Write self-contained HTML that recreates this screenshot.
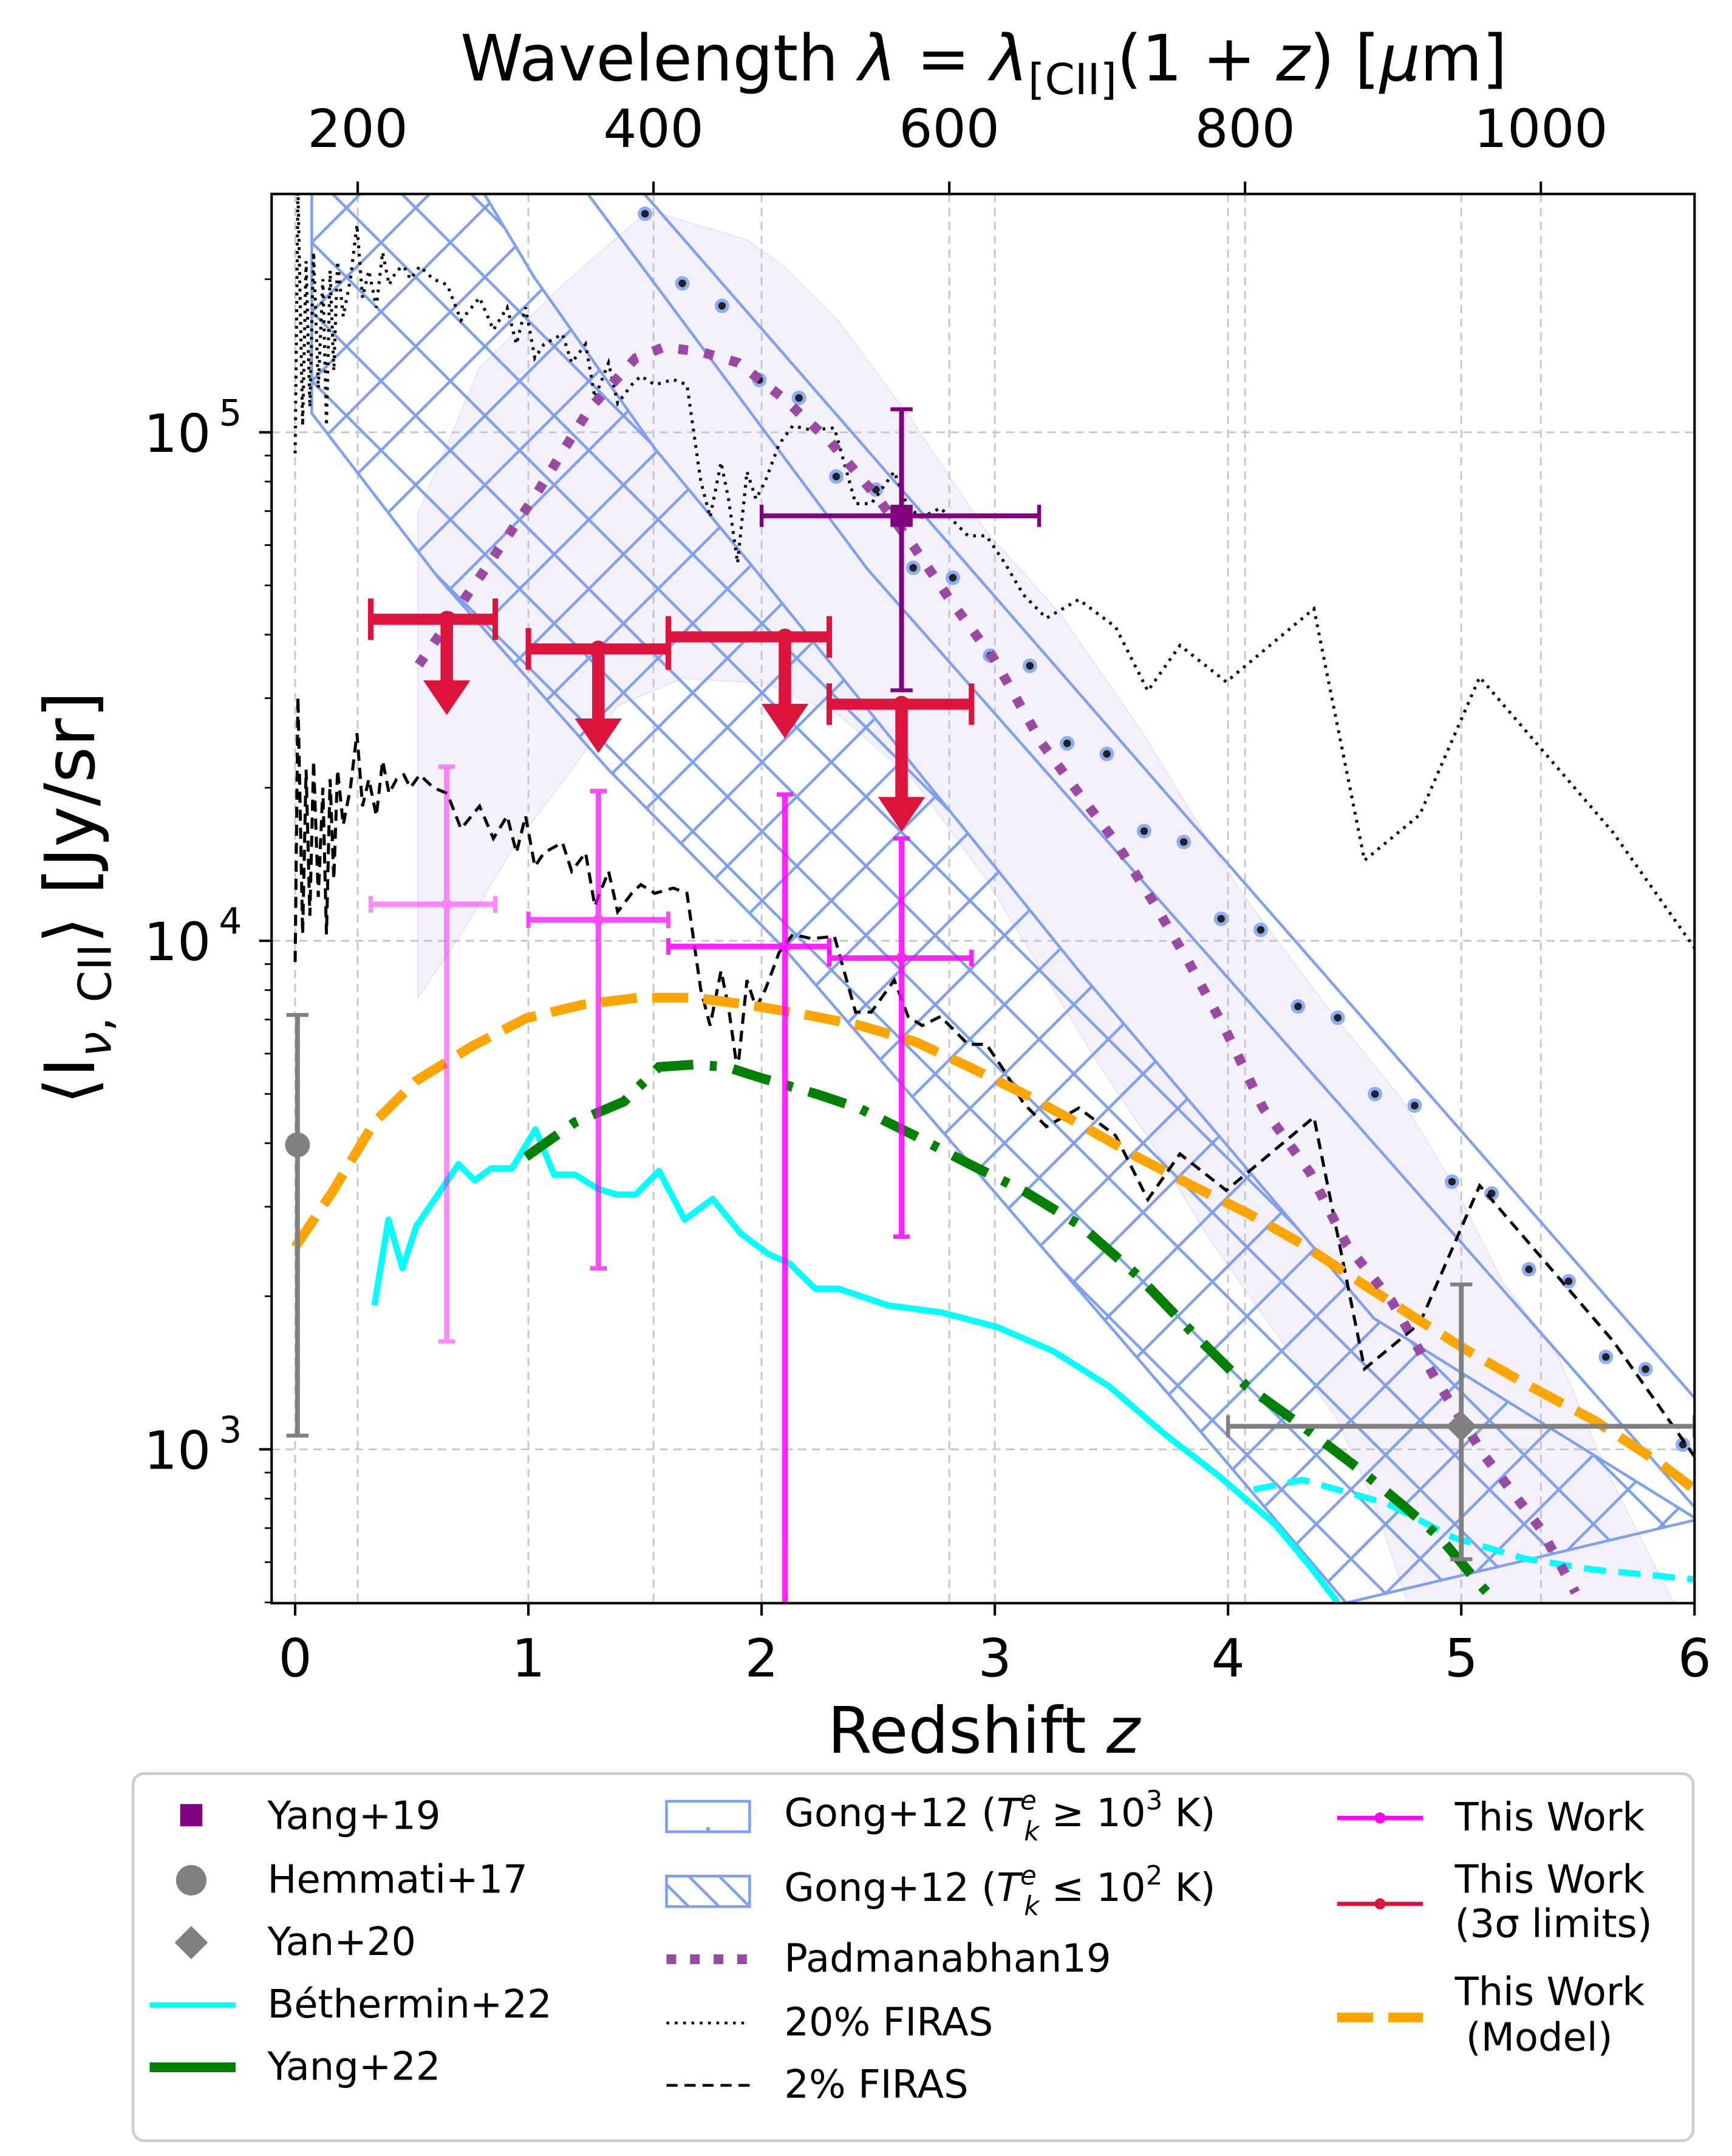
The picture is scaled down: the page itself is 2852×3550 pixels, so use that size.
<!DOCTYPE html>
<html><head><meta charset="utf-8"><style>
html,body{margin:0;padding:0;background:#fff}
svg{display:block}
text{font-family:"DejaVu Sans","Liberation Sans",sans-serif;fill:#000}
</style></head><body>
<svg id="chart" xmlns="http://www.w3.org/2000/svg" width="2852" height="3550" viewBox="0 0 1250 1556">
<defs>
<clipPath id="plotclip"><rect x="196" y="140" width="1027" height="1017"/></clipPath>
<pattern id="xhatch" patternUnits="userSpaceOnUse" width="50" height="50">
<path d="M0,0 L50,50 M50,0 L0,50" stroke="#7f9ff0" stroke-width="2" fill="none"/>
</pattern>
</defs>
<rect x="0" y="0" width="1250" height="1556" fill="#fff"/>
<g id="grid"></g>
<g id="plot" clip-path="url(#plotclip)"></g>
<rect x="196" y="140" width="1027" height="1017" fill="none" stroke="#000" stroke-width="1.8"/>
<g id="axes"></g>
<text x="710" y="58" font-size="46" text-anchor="middle">Wavelength <tspan font-style="italic">λ</tspan> = <tspan font-style="italic">λ</tspan><tspan font-size="31" dy="10">[CII]</tspan><tspan dy="-10">(1 + </tspan><tspan font-style="italic">z</tspan>) [<tspan font-style="italic">μ</tspan>m]</text>
<text x="710" y="1265" font-size="46" text-anchor="middle">Redshift <tspan font-style="italic">z</tspan></text>
<text transform="translate(68,648) rotate(-90)" font-size="50" text-anchor="middle">⟨I<tspan font-size="33" dy="12"><tspan font-style="italic">ν</tspan>, CII</tspan><tspan dy="-12">⟩ [Jy/sr]</tspan></text>
<g id="legend"></g>
</svg>
<script>
var NS="http://www.w3.org/2000/svg";
// ---- data ----
var bethZ=[0.34,0.40,0.46,0.52,0.64,0.70,0.77,0.84,0.93,1.03,1.11,1.20,1.30,1.38,1.46,1.56,1.67,1.79,1.91,2.03,2.12,2.23,2.33,2.54,2.77,3.01,3.25,3.49,3.73,3.96,4.20,4.35,4.47];
var bethV=[1920,2830,2270,2750,3310,3640,3380,3570,3570,4260,3470,3470,3250,3170,3170,3530,2830,3110,2660,2420,2320,2070,2070,1920,1860,1740,1560,1330,1070,887,713,590,500];
var bethHiZ=[4.11,4.32,4.68,4.97,5.27,5.57,6.0];
var bethHiV=[834,871,783,670,610,580,555];
var yang22Z=[0.99,1.20,1.41,1.56,1.71,1.85,2.00,2.24,2.42,2.66,2.89,3.13,3.37,3.61,3.84,4.08,4.32,4.56,4.74,4.91,5.06,5.15];
var yang22V=[3760,4400,4830,5650,5710,5650,5370,4990,4680,4130,3640,3210,2750,2200,1710,1330,1110,916,783,670,555,500];
var modelZ=[0,0.16,0.34,0.52,0.76,0.99,1.23,1.47,1.71,1.94,2.18,2.42,2.66,2.89,3.13,3.37,3.61,3.84,4.08,4.32,4.56,4.79,5.03,5.27,5.57,5.86,6.0];
var modelV=[2500,3210,4400,5310,6210,7040,7490,7730,7730,7490,7170,6820,6330,5650,4990,4340,3760,3310,2920,2530,2140,1830,1560,1350,1140,934,834];
var padZ=[0.53,0.79,1.03,1.26,1.46,1.58,1.74,1.90,2.09,2.29,2.49,2.65,2.81,3.00,3.20,3.36,3.52,3.68,3.83,3.99,4.15,4.35,4.51,4.70,4.90,5.10,5.34,5.49];
var padV=[34900,51800,75100,111000,140000,147000,144000,137000,117000,96300,75100,59800,46700,35600,24500,19500,15600,11900,9100,6670,4690,3510,2520,1960,1350,971,698,523];
var padHiZ=[0.526,0.791,1.146,1.462,1.542,1.937,2.095,2.332,2.648,2.964,3.281,3.636,3.874,4.071,4.427,4.743,4.980,5.178,5.415,5.613,5.810,5.929];
var padHiV=[69200,134000,195000,260000,271000,239000,212000,165000,105000,63700,43900,25600,16900,12200,7390,4890,3230,2130,1530,931,615,481];
var padLoZ=[0.526,0.711,0.949,1.186,1.383,1.660,2.016,2.332,2.648,2.964,3.202,3.439,3.676,3.913,4.190,4.466,4.625,4.783];
var padLoV=[7710,10300,15600,21700,29000,32800,32100,27800,20800,13200,8730,5770,3970,2620,1730,1150,789,481];
var firasZ=[0,0.012,0.032,0.047,0.063,0.079,0.099,0.119,0.134,0.150,0.166,0.182,0.206,0.237,0.265,0.289,0.316,0.348,0.375,0.403,0.435,0.466,0.494,0.534,0.593,0.652,0.711,0.791,0.850,0.909,0.949,0.988,1.028,1.067,1.146,1.186,1.245,1.285,1.344,1.383,1.443,1.482,1.542,1.621,1.680,1.739,1.779,1.826,1.858,1.897,1.937,1.976,2.016,2.075,2.134,2.213,2.312,2.403,2.470,2.569,2.628,2.688,2.767,2.885,2.964,3.043,3.123,3.221,3.360,3.518,3.656,3.794,3.992,4.368,4.585,4.822,5.079,5.652,6.012];
var firas2V=[9090,30200,10300,21700,11200,22600,12200,20000,10300,20800,13200,21700,16900,20000,25600,18400,20800,17600,22600,19500,20800,21200,20000,21200,20000,19500,16600,18400,15900,17600,14900,17600,14000,14900,15600,13700,14900,11700,13700,11400,12400,12900,12400,12700,12400,8030,6810,8730,7390,5530,8370,7390,8030,9480,10300,10100,10200,7240,7240,8370,7100,6810,7100,6260,6260,5530,4790,4310,4690,4140,3100,3810,3230,4500,1440,1770,3300,1630,951];
var gongLoLowZ=[0.071,0.071,0.613,1.344,2.095,2.925,3.834,4.506];
var gongLoLowV=[307000,109000,51800,21700,9680,3510,1150,499];
var gongLoUpZ=[0.787,1.024,1.542,1.949,3.360,4.625,6.012];
var gongLoUpV=[307000,202000,92900,55300,8730,1810,728];
var gongHiUpZ=[1.462,3.735,6.012];
var gongHiUpV=[307000,19500,1245];
var gongHiLowZ=[1.225,2.451,6.012];
var gongHiLowV=[307000,54000,759];
var workZ=[0.65,1.30,2.10,2.60];
var workV=[11800,11000,9750,9250];
var workZlo=[0.324,1.0,1.6,2.29];
var workZhi=[0.858,1.6,2.29,2.9];
var workVlo=[1630,2270,100,2620];
var workVhi=[22000,19700,19400,15900];
var limV=[42900,37500,39600,29200];
var limTip=[27800,23400,25000,16400];
var yang19Z=[2.6],yang19V=[68500],yang19Zlo=[2.0],yang19Zhi=[3.19],yang19Vlo=[31100],yang19Vhi=[111000];
var hemZ=[0.01],hemV=[3970],hemVlo=[1064],hemVhi=[7150];
var yanZ=[5.0],yanV=[1110],yanZlo=[4.0],yanZhi=[6.0],yanVlo=[608],yanVhi=[2110];
var xTicks=[0,1,2,3,4,5,6];
var topTicks=[200,400,600,800,1000];
var yMajor=[1000,10000,100000];
var yMajorLbl=["3","4","5"];
// ---- axes functions ----
function X(z){return 213+z*168.33;}
function Y(v){return 312-(Math.log10(v)-5)*367;}
function lamZ(l){return l/157.7-1;}
var plot=document.getElementById('plot'),grid=document.getElementById('grid'),axes=document.getElementById('axes'),leg=document.getElementById('legend');
function mk(tag,attrs,parent){var e=document.createElementNS(NS,tag);for(var k in attrs)e.setAttribute(k,attrs[k]);(parent||plot).appendChild(e);return e;}
function pts(zs,vs){return zs.map(function(z,i){return X(z).toFixed(1)+','+Y(vs[i]).toFixed(1);}).join(' ');}
// grid
xTicks.forEach(function(t){var l=mk('line',{x1:X(t),x2:X(t),y1:140,y2:1157,stroke:'#c8c8c8','stroke-width':1.3,'stroke-dasharray':'6,4'},grid);

});
topTicks.forEach(function(t){var l=mk('line',{x1:X(lamZ(t)),x2:X(lamZ(t)),y1:140,y2:1157,stroke:'#c8c8c8','stroke-width':1.3,'stroke-dasharray':'6,4'},grid);

});
yMajor.forEach(function(t){var l=mk('line',{x1:196,x2:1223,y1:Y(t),y2:Y(t),stroke:'#c8c8c8','stroke-width':1.3,'stroke-dasharray':'6,4'},grid);

});
// purple band
var band=mk('polygon',{points:pts(padHiZ,padHiV)+' '+pts(padLoZ.slice().reverse(),padLoV.slice().reverse()),fill:'#c9b3f0','fill-opacity':0.2,stroke:'#c9b3f0','stroke-opacity':0.3});


// gong low-T band (crosshatch)
var g1=mk('polygon',{points:pts(gongLoLowZ,gongLoLowV)+' '+pts(gongLoUpZ.slice().reverse(),gongLoUpV.slice().reverse()),fill:'url(#xhatch)',stroke:'#7f9ff0','stroke-width':2});


// gong high-T band
var g2=mk('polygon',{points:pts(gongHiLowZ,gongHiLowV)+' '+pts(gongHiUpZ.slice().reverse(),gongHiUpV.slice().reverse()),fill:'none',stroke:'#7f9ff0','stroke-width':2});


function interpLog(zs,vs,z){for(var i=0;i<zs.length-1;i++){if(z>=zs[i]&&z<=zs[i+1]){var f=(z-zs[i])/(zs[i+1]-zs[i]);return Math.pow(10,Math.log10(vs[i])+f*(Math.log10(vs[i+1])-Math.log10(vs[i])));}}return null;}
for(var zq=1.5;zq<6;zq+=0.33){[0.25,0.55].forEach(function(f,k){var zz=zq+k*0.16;var aa=interpLog(gongHiUpZ,gongHiUpV,zz),bb=interpLog(gongHiLowZ,gongHiLowV,zz);if(!aa||!bb)return;var yv=Y(aa)+(Y(bb)-Y(aa))*f;
var c=mk('circle',{cx:X(zz),cy:yv,r:4,fill:'#222',stroke:'#8fadf5','stroke-width':2.5});

});}
// firas lines
var f20=mk('polyline',{points:pts(firasZ,firas2V.map(function(v){return v*10;})),fill:'none',stroke:'#000','stroke-width':2.2,'stroke-dasharray':'2,4'});


var f2=mk('polyline',{points:pts(firasZ,firas2V),fill:'none',stroke:'#000','stroke-width':2.2,'stroke-dasharray':'8,5'});


// curves
var c1=mk('polyline',{points:pts(bethZ,bethV),fill:'none',stroke:'#00ffff','stroke-width':4.5,'stroke-linejoin':'round'});


var c2=mk('polyline',{points:pts(bethHiZ,bethHiV),fill:'none',stroke:'#00ffff','stroke-width':4.5,'stroke-dasharray':'16,9'});


var c3=mk('polyline',{points:pts(yang22Z,yang22V),fill:'none',stroke:'#008000','stroke-width':7,'stroke-dasharray':'28,12,5,12'});


var c4=mk('polyline',{points:pts(modelZ,modelV),fill:'none',stroke:'#ffa500','stroke-width':7,'stroke-dasharray':'26,11'});


var c5=mk('polyline',{points:pts(padZ,padV),fill:'none',stroke:'#9b4aa3','stroke-width':7,'stroke-dasharray':'7,12'});


// error bar helper
function ebar(name,z,v,zlo,zhi,vlo,vhi,color,w,cap,op){var g=mk('g',{opacity:op});


if(zlo!==null){mk('line',{x1:X(zlo),x2:X(zhi),y1:Y(v),y2:Y(v),stroke:color,'stroke-width':w},g);
mk('line',{x1:X(zlo),x2:X(zlo),y1:Y(v)-cap,y2:Y(v)+cap,stroke:color,'stroke-width':w*0.8},g);
mk('line',{x1:X(zhi),x2:X(zhi),y1:Y(v)-cap,y2:Y(v)+cap,stroke:color,'stroke-width':w*0.8},g);}
if(vlo!==null){mk('line',{x1:X(z),x2:X(z),y1:Y(vhi),y2:Y(Math.max(vlo,100)),stroke:color,'stroke-width':w},g);
mk('line',{x1:X(z)-cap,x2:X(z)+cap,y1:Y(vhi),y2:Y(vhi),stroke:color,'stroke-width':w*0.8},g);
if(vlo>200)mk('line',{x1:X(z)-cap,x2:X(z)+cap,y1:Y(vlo),y2:Y(vlo),stroke:color,'stroke-width':w*0.8},g);}
return g;}
var workOp=[0.45,0.7,0.85,0.85];
workZ.forEach(function(z,i){var g=ebar('this-work-point',z,workV[i],workZlo[i],workZhi[i],workVlo[i],workVhi[i],'#ff00ff',4,6,workOp[i]);
mk('circle',{cx:X(z),cy:Y(workV[i]),r:4,fill:'#ff00ff'},g);});
// red limits
workZ.forEach(function(z,i){var g=mk('g',{});


var y=Y(limV[i]),yt=Y(limTip[i]),x=X(z);
mk('line',{x1:X(workZlo[i]),x2:X(workZhi[i]),y1:y,y2:y,stroke:'#dc143c','stroke-width':8},g);
mk('line',{x1:X(workZlo[i]),x2:X(workZlo[i]),y1:y-15,y2:y+15,stroke:'#dc143c','stroke-width':4},g);
mk('line',{x1:X(workZhi[i]),x2:X(workZhi[i]),y1:y-15,y2:y+15,stroke:'#dc143c','stroke-width':4},g);
mk('line',{x1:x,x2:x,y1:y,y2:yt-22,stroke:'#dc143c','stroke-width':9},g);
mk('polygon',{points:(x-17)+','+(yt-25)+' '+(x+17)+','+(yt-25)+' '+x+','+yt,fill:'#dc143c'},g);
mk('circle',{cx:x,cy:y,r:6,fill:'#dc143c'},g);});
// literature points
var gy=ebar('yang19-point',yang19Z[0],yang19V[0],yang19Zlo[0],yang19Zhi[0],yang19Vlo[0],yang19Vhi[0],'#800080',3.5,8,1);
mk('rect',{x:X(yang19Z[0])-8,y:Y(yang19V[0])-8,width:16,height:16,fill:'#800080'},gy);
var gh=ebar('hemmati17-point',hemZ[0],hemV[0],null,null,hemVlo[0],hemVhi[0],'#808080',3.5,8,1);
mk('circle',{cx:X(hemZ[0]),cy:Y(hemV[0]),r:9,fill:'#808080'},gh);
var gn=ebar('yan20-point',yanZ[0],yanV[0],yanZlo[0],yanZhi[0],yanVlo[0],yanVhi[0],'#808080',3.5,8,1);
var dx=X(yanZ[0]),dy=Y(yanV[0]);
mk('polygon',{points:(dx-11)+','+dy+' '+dx+','+(dy-11)+' '+(dx+11)+','+dy+' '+dx+','+(dy+11),fill:'#808080'},gn);
// axes ticks
xTicks.forEach(function(t){mk('line',{x1:X(t),x2:X(t),y1:1157,y2:1166,stroke:'#000','stroke-width':1.8},axes);
var tx=mk('text',{x:X(t),y:1210,'font-size':38,'text-anchor':'middle'},axes);tx.textContent=t;

});
topTicks.forEach(function(t){mk('line',{x1:X(lamZ(t)),x2:X(lamZ(t)),y1:131,y2:140,stroke:'#000','stroke-width':1.8},axes);
var tx=mk('text',{x:X(lamZ(t)),y:106,'font-size':38,'text-anchor':'middle'},axes);tx.textContent=t;

});
yMajor.forEach(function(t,i){mk('line',{x1:187,x2:196,y1:Y(t),y2:Y(t),stroke:'#000','stroke-width':1.8},axes);
var tx=mk('text',{x:128,y:Y(t)+14,'font-size':38,'text-anchor':'middle'},axes);tx.textContent='10';


var sp=mk('text',{x:158,y:Y(t)-5,'font-size':26},axes);sp.textContent=yMajorLbl[i];});
[100,1000,10000,100000].forEach(function(d){for(var m=2;m<10;m++){var v=d*m;var y=Y(v);if(y>140&&y<1157)mk('line',{x1:191,x2:196,y1:y,y2:y,stroke:'#000','stroke-width':1.2},axes);}});
// legend
mk('rect',{x:96,y:1280,width:1126,height:265,rx:8,fill:'#fff',stroke:'#cccccc','stroke-width':2},leg);
function lt(x,y,s){var t=mk('text',{x:x,y:y,'font-size':28},leg);t.textContent=s;

return t;}
function tsp(parent,s,attrs){var e=mk('tspan',attrs||{},parent);e.textContent=s;return e;}
mk('rect',{x:130,y:1302,width:16,height:16,fill:'#800080'},leg);lt(193,1320,'Yang+19');
mk('circle',{cx:138,cy:1357,r:11,fill:'#808080'},leg);lt(193,1366,'Hemmati+17');
mk('polygon',{points:'126,1402 138,1390 150,1402 138,1414',fill:'#808080'},leg);lt(193,1411,'Yan+20');
mk('line',{x1:108,x2:170,y1:1447,y2:1447,stroke:'#00ffff','stroke-width':4},leg);lt(193,1456,'Béthermin+22');
mk('line',{x1:108,x2:170,y1:1492,y2:1492,stroke:'#008000','stroke-width':7},leg);lt(193,1501,'Yang+22');
mk('rect',{x:481,y:1300,width:60,height:22,fill:'none',stroke:'#7f9ff0','stroke-width':2},leg);
mk('circle',{cx:511,cy:1320,r:1.5,fill:'#7f9ff0'},leg);
function gongLbl(y,sym,exp){var t=lt(566,y,'Gong+12 (');
tsp(t,'T',{'font-style':'italic'});tsp(t,'e',{'font-size':19,dy:-12,'font-style':'italic'});tsp(t,'k',{'font-size':19,dy:22,dx:-9,'font-style':'italic'});
tsp(t,' '+sym+' 10',{dy:-10});tsp(t,exp,{'font-size':19,dy:-12});tsp(t,' K)',{dy:12});}
gongLbl(1318,'≥','3');
mk('rect',{x:481,y:1354,width:60,height:22,fill:'none',stroke:'#7f9ff0','stroke-width':2},leg);
mk('path',{d:'M481,1360 L497,1376 M497,1354 L519,1376 M519,1354 L541,1376',stroke:'#7f9ff0','stroke-width':2,fill:'none'},leg);
gongLbl(1372,'≤','2');
mk('line',{x1:481,x2:541,y1:1414,y2:1414,stroke:'#9b4aa3','stroke-width':7,'stroke-dasharray':'7,10'},leg);lt(566,1423,'Padmanabhan19');
mk('line',{x1:481,x2:541,y1:1460,y2:1460,stroke:'#000','stroke-width':2,'stroke-dasharray':'2,4'},leg);lt(566,1469,'20% FIRAS');
mk('line',{x1:481,x2:541,y1:1505,y2:1505,stroke:'#000','stroke-width':2,'stroke-dasharray':'8,5'},leg);lt(566,1514,'2% FIRAS');
mk('line',{x1:965,x2:1027,y1:1312,y2:1312,stroke:'#ff00ff','stroke-width':3},leg);mk('circle',{cx:996,cy:1312,r:4,fill:'#ff00ff'},leg);lt(1050,1321,'This Work');
mk('line',{x1:965,x2:1027,y1:1374,y2:1374,stroke:'#dc143c','stroke-width':3},leg);mk('circle',{cx:996,cy:1374,r:4,fill:'#dc143c'},leg);lt(1050,1366,'This Work');lt(1050,1398,'(3σ limits)');
mk('line',{x1:965,x2:1027,y1:1456,y2:1456,stroke:'#ffa500','stroke-width':7,'stroke-dasharray':'26,11'},leg);lt(1050,1447,'This Work');lt(1058,1480,'(Model)');
</script>
</body></html>
